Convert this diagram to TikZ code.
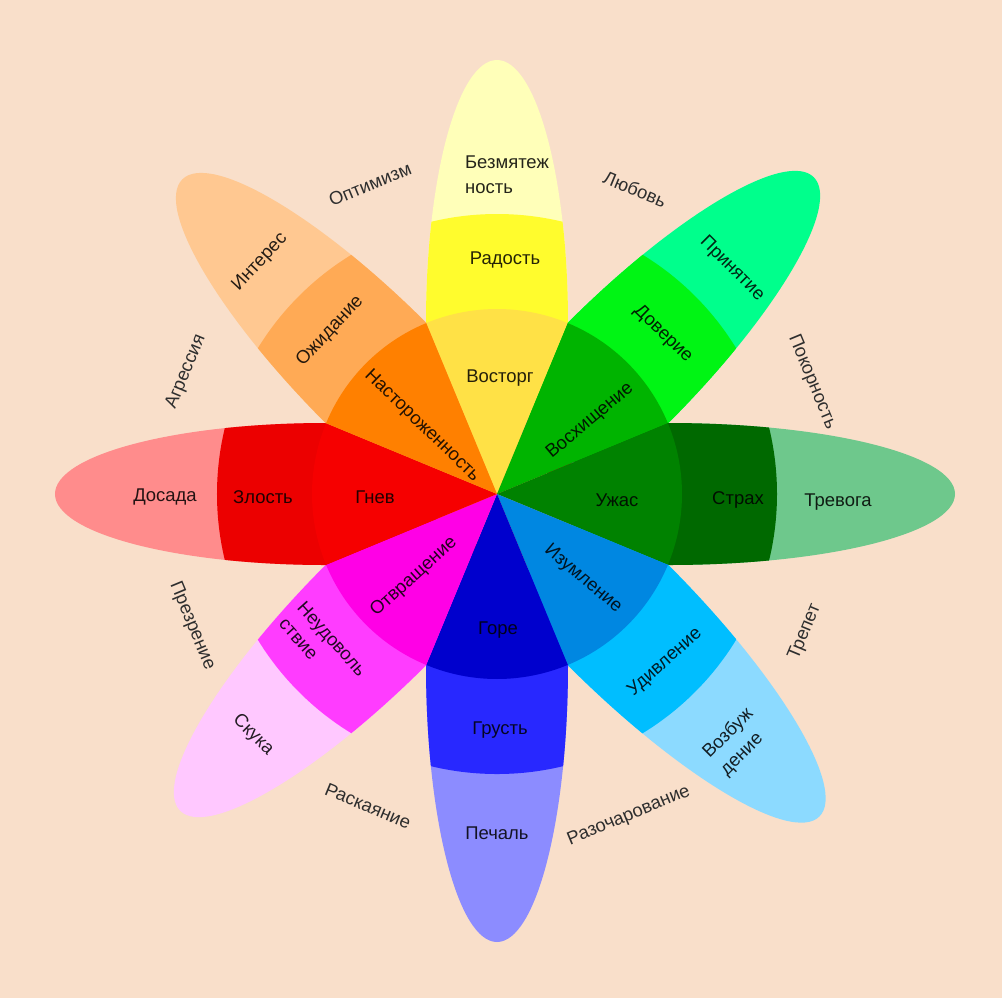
\documentclass[tikz,border=0pt]{standalone}
\usepackage{fontspec}
\setmainfont{Liberation Sans}

\definecolor{peach}{RGB}{249,223,202}
% joy
\definecolor{joyIn}{RGB}{255,225,70}
\definecolor{joyMid}{RGB}{255,252,45}
\definecolor{joyOut}{RGB}{255,255,185}
% trust
\definecolor{trustIn}{RGB}{0,180,0}
\definecolor{trustMid}{RGB}{0,245,20}
\definecolor{trustOut}{RGB}{0,255,140}
% fear
\definecolor{fearIn}{RGB}{0,130,0}
\definecolor{fearMid}{RGB}{0,105,0}
\definecolor{fearOut}{RGB}{110,200,140}
% surprise
\definecolor{surpIn}{RGB}{0,135,225}
\definecolor{surpMid}{RGB}{0,190,255}
\definecolor{surpOut}{RGB}{140,218,255}
% sadness
\definecolor{sadIn}{RGB}{0,0,205}
\definecolor{sadMid}{RGB}{40,40,255}
\definecolor{sadOut}{RGB}{140,140,255}
% disgust
\definecolor{disgIn}{RGB}{255,0,230}
\definecolor{disgMid}{RGB}{255,60,255}
\definecolor{disgOut}{RGB}{255,200,255}
% anger
\definecolor{angIn}{RGB}{246,0,0}
\definecolor{angMid}{RGB}{236,0,0}
\definecolor{angOut}{RGB}{255,140,140}
% anticipation
\definecolor{antIn}{RGB}{255,128,0}
\definecolor{antMid}{RGB}{255,170,85}
\definecolor{antOut}{RGB}{255,200,145}

\tikzset{
    petallabel/.style={font=\fontsize{10.5}{14}\selectfont, text=black, text opacity=0.86, align=left, inner sep=0pt},
    dyadlabel/.style={font=\fontsize{10.5}{14}\selectfont, text=black!82, inner sep=0pt}
}

\begin{document}
\begin{tikzpicture}[x=0.2mm, y=0.2mm]
    \useasboundingbox (-497,-504) rectangle (505,494);
    \fill[peach] (-497,-504) rectangle (505,494);

    %Petals: light outer ellipse, middle band up to r=280
    \foreach \ang/\len/\cmid/\cout in {90/263/joyMid/joyOut, 45/277/trustMid/trustOut,
            0/287/fearMid/fearOut, -45/285/surpMid/surpOut, -90/277/sadMid/sadOut,
            -135/277/disgMid/disgOut, 180/271/angMid/angOut, 135/274/antMid/antOut} {
        \begin{scope}[rotate=\ang]
            \fill[\cout] (171,0) ellipse [x radius=\len, y radius=71];
            \begin{scope}
                \clip (171,0) ellipse [x radius=\len, y radius=71];
                \fill[\cmid] (0,0) circle [radius=280];
            \end{scope}
        \end{scope}
    }

    %Inner wedges of the wheel
    \foreach \ang/\cin in {90/joyIn, 45/trustIn, 0/fearIn, -45/surpIn,
            -90/sadIn, -135/disgIn, 180/angIn, 135/antIn} {
        \fill[\cin] (0,0) -- (\ang-22.5:185) arc [start angle=\ang-22.5, end angle=\ang+22.5, radius=185] -- cycle;
    }

    %Joy
    \node[petallabel] (bezm) at (10,319) {Безмятеж\\ность};
    \node[petallabel] (radost) at (8,234) {Радость};
    \node[petallabel] (vostorg) at (3,116) {Восторг};

    %Trust
    \node[petallabel, rotate=-45] (prin) at (235,225) {Принятие};
    \node[petallabel, rotate=-44] (dover) at (166,160) {Доверие};
    \node[petallabel, rotate=40] (voshi) at (93,73) {Восхищение};

    %Fear
    \node[petallabel] (uzhas) at (120,-6) {Ужас};
    \node[petallabel] (strah) at (241,-6) {Страх};
    \node[petallabel] (trev) at (341,-8) {Тревога};

    %Surprise
    \node[petallabel, rotate=-40] (izum) at (86,-85) {Изумление};
    \node[petallabel, rotate=42] (udiv) at (168,-168) {Удивление};
    \node[petallabel, rotate=45] (vozb) at (240,-248) {Возбуж\\дение};

    %Sadness
    \node[petallabel] (gore) at (1,-136) {Горе};
    \node[petallabel] (grust) at (3,-236) {Грусть};
    \node[petallabel] (pechal) at (0,-339) {Печаль};

    %Disgust
    \node[petallabel, rotate=42] (otvr) at (-83,-83) {Отвращение};
    \node[petallabel, rotate=-48] (neud) at (-174,-153) {Неудоволь\\ствие};
    \node[petallabel, rotate=-45] (skuka) at (-244,-241) {Скука};

    %Anger
    \node[petallabel] (gnev) at (-122,-3) {Гнев};
    \node[petallabel] (zlost) at (-234,-3) {Злость};
    \node[petallabel] (dosada) at (-332,-3) {Досада};

    %Anticipation
    \node[petallabel, rotate=-44] (nastor) at (-75,68) {Настороженность};
    \node[petallabel, rotate=47] (ozhid) at (-167,163) {Ожидание};
    \node[petallabel, rotate=47] (inter) at (-237,232) {Интерес};

    %Dyads between the petals
    \node[dyadlabel, rotate=22.5] (optim) at (-127,310) {Оптимизм};
    \node[dyadlabel, rotate=-22.5] (lubov) at (138,305) {Любовь};
    \node[dyadlabel, rotate=-67.5] (pokor) at (315,112) {Покорность};
    \node[dyadlabel, rotate=67.5] (trepet) at (308,-138) {Трепет};
    \node[dyadlabel, rotate=22.5] (razoch) at (132,-322) {Разочарование};
    \node[dyadlabel, rotate=-22.5] (raskay) at (-129,-312) {Раскаяние};
    \node[dyadlabel, rotate=-67.5] (prezr) at (-305,-132) {Презрение};
    \node[dyadlabel, rotate=67.5] (agres) at (-311,122) {Агрессия};
\end{tikzpicture}
\end{document}
